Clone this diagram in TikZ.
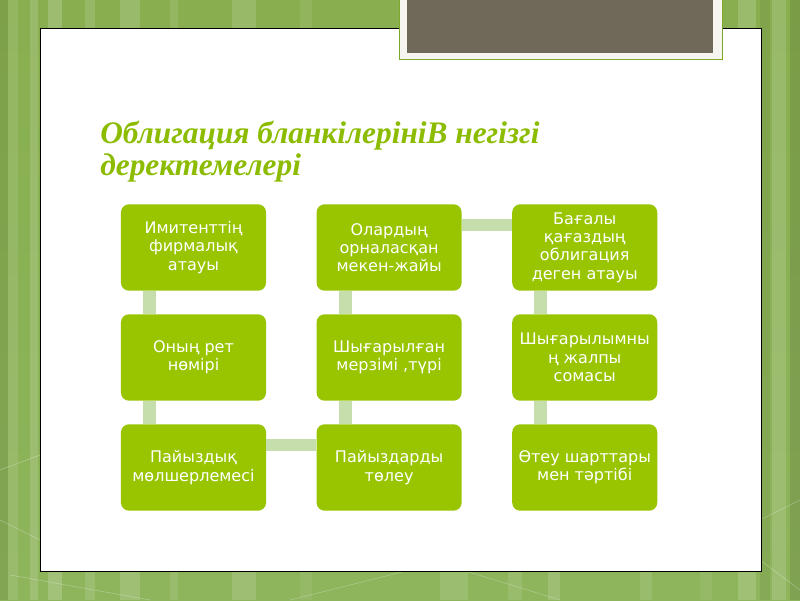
\documentclass[tikz,border=0pt]{standalone}
\usepackage{fontspec}
\setmainfont{Liberation Serif}
\newfontfamily\boxfont{DejaVu Sans}
\usepackage{tikz}
\usetikzlibrary{positioning,calc}
\definecolor{boxgreen}{RGB}{153,196,0}
\definecolor{titlegreen}{RGB}{140,188,0}
\definecolor{linkgreen}{RGB}{198,221,172}
\definecolor{bgdark}{RGB}{136,174,80}
\definecolor{bglight}{RGB}{182,224,102}
\definecolor{bgbottom}{RGB}{142,180,92}
\definecolor{photobrown}{RGB}{112,104,88}
\definecolor{framegreen}{RGB}{128,168,40}
\definecolor{framepaper}{RGB}{246,245,240}
\tikzset{
  infobox/.style={rectangle, rounded corners=0.2cm, fill=boxgreen, text=white,
                  minimum width=3.625cm, minimum height=2.16cm, inner sep=0pt,
                  align=center, font=\boxfont\fontsize{11.4}{13}\selectfont},
  linkbar/.style={linkgreen, line width=9.2pt},
  titletext/.style={anchor=base west, inner sep=0pt, text=titlegreen,
                    font=\bfseries\itshape\fontsize{22.3}{25}\selectfont},
  stripe/.style={line width=0.4pt, white, opacity=0.3},
}

\begin{document}
\begin{tikzpicture}[x=0.025cm, y=-0.025cm, node distance=0.575cm and 1.25cm]
\useasboundingbox (0,0) rectangle (800,600);
\shade[top color=bgdark, middle color=bglight, bottom color=bgbottom] (0,0) rectangle (800,600);
\foreach \xa/\xb/\op in {8/18/.10, 30/38/.15, 48/62/.18, 85/95/.12, 120/140/.15, 170/178/.10,
    232/256/.14, 300/312/.08, 440/468/.12, 508/522/.10, 548/560/.14, 640/652/.10,
    700/712/.08, 738/756/.16, 772/786/.14}
  \fill[white, opacity=\op] (\xa,0) rectangle (\xb,600);
\foreach \xa/\xb/\op in {0/8/.08, 760/770/.06, 790/800/.10}
  \fill[black, opacity=\op] (\xa,0) rectangle (\xb,600);
\draw[stripe] (0,470) -- (40,455);
\draw[stripe] (0,520) -- (40,540);
\draw[stripe] (10,575) -- (150,600);
\draw[stripe] (290,600) -- (450,560);
\draw[stripe] (430,560) -- (560,600);
\draw[stripe] (760,520) -- (800,500);
\draw[stripe] (760,560) -- (800,590);

\draw[fill=white, line width=0.7pt] (40,28) rectangle (761,571);
\draw[framegreen, fill=framepaper, line width=0.7pt] (399,-2) rectangle (722,59);
\fill[photobrown] (407,-2) rectangle (713,53);

\node[titletext] (titleone) at (100,143) {Облигация бланкілерініВ негізгі};
\node[titletext] (titletwo) at (100,175) {деректемелері};

\node[infobox] (firm) at (193.5,247.5) {Имитенттің\\фирмалық\\атауы};
\node[infobox, below=of firm] (number) {Оның рет\\нөмірі};
\node[infobox, below=of number] (rate) {Пайыздық\\мөлшерлемесі};
\node[infobox, right=of rate] (payment) {Пайыздарды\\төлеу};
\node[infobox, above=of payment] (term) {Шығарылған\\мерзімі ,түрі};
\node[infobox, above=of term] (address) {Олардың\\орналасқан\\мекен-жайы};
\node[infobox, right=of address] (secname) {Бағалы\\қағаздың\\облигация\\деген атауы};
\node[infobox, below=of secname] (total) {Шығарылымны\\ң жалпы\\сомасы};
\node[infobox, below=of total] (redeem) {Өтеу шарттары\\мен тәртібі};

\foreach \a/\b in {firm/number, number/rate, term/payment, address/term, secname/total, total/redeem}
  \draw[linkbar] ($(\a.south west)+(29,0)$) -- ($(\b.north west)+(29,0)$);
\foreach \a/\b in {rate/payment, address/secname}
  \draw[linkbar] ($(\a.north east)+(0,21)$) -- ($(\b.north west)+(0,21)$);
\end{tikzpicture}
\end{document}
